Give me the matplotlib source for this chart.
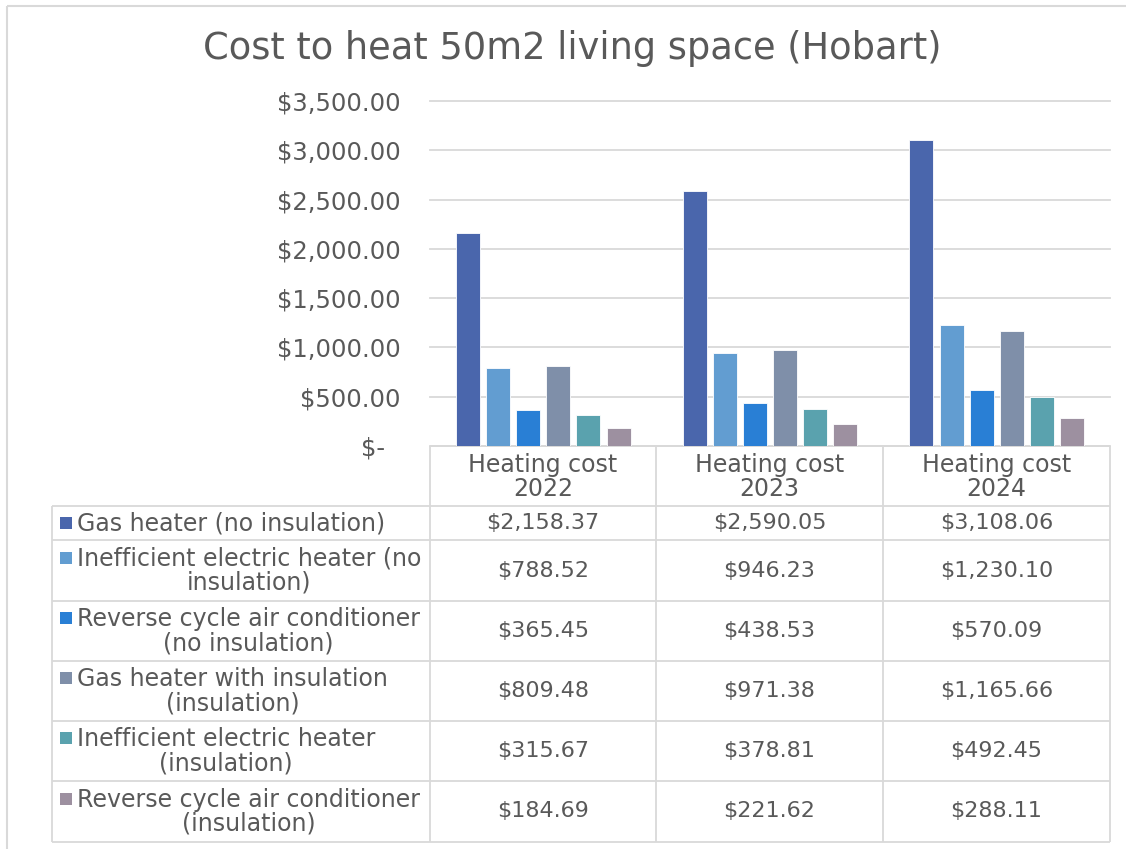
import matplotlib.pyplot as plt
import numpy as np
from matplotlib.patches import Rectangle

plt.rcParams['font.family'] = ['DejaVu Sans']

# Heating cost data per year
years = ["2022", "2023", "2024"]
series_names = [
    "Gas heater (no insulation)",
    "Inefficient electric heater (no\ninsulation)",
    "Reverse cycle air conditioner\n(no insulation)",
    "Gas heater with insulation\n(insulation)",
    "Inefficient electric heater\n(insulation)",
    "Reverse cycle air conditioner\n(insulation)",
]
gas_no_ins = [2158.37, 2590.05, 3108.06]
elec_no_ins = [788.52, 946.23, 1230.10]
rcac_no_ins = [365.45, 438.53, 570.09]
gas_ins = [809.48, 971.38, 1165.66]
elec_ins = [315.67, 378.81, 492.45]
rcac_ins = [184.69, 221.62, 288.11]
series_values = [gas_no_ins, elec_no_ins, rcac_no_ins, gas_ins, elec_ins, rcac_ins]
colors = ["#4A66AC", "#629DD1", "#297FD5", "#7F8FA9", "#5AA2AE", "#9D90A0"]

W, H = 1126, 849
TXT = "#595959"
LINE = "#D9D9D9"

fig = plt.figure(figsize=(W / 100, H / 100), dpi=100)

# pixel-space overlay for frame, title and data table
bg = fig.add_axes([0, 0, 1, 1])
bg.set_xlim(0, W)
bg.set_ylim(H, 0)
bg.axis('off')
bg.add_patch(Rectangle((7, 6), W + 10, H + 10, fill=False, ec=LINE, lw=1.5))
bg.text(572, 48, "Cost to heat 50m2 living space (Hobart)", ha='center', va='center',
        fontsize=26.5, color=TXT)

# bar chart
left, right, top, base = 430, 1110, 101, 446
ax = fig.add_axes([left / W, 1 - base / H, (right - left) / W, (base - top) / H])
ax.patch.set_alpha(0)
x = np.arange(len(years))
bw = 0.106
step = 0.1327
for i, (vals, c) in enumerate(zip(series_values, colors)):
    ax.bar(x + (i - 2.5) * step, vals, width=bw, color=c, edgecolor="white", linewidth=0.6, zorder=3)
ax.set_xlim(-0.5, 2.5)
ax.set_ylim(0, 3500)
ticks = np.arange(0, 3501, 500)
ax.set_yticks(ticks)
ax.set_yticklabels(["$-  "] + [f"${t:,.2f}" for t in ticks[1:]], fontsize=17.5, color=TXT)
ax.tick_params(axis='y', length=0, pad=21)
ax.set_xticks([])
ax.grid(axis='y', color=LINE, lw=1.3, zorder=0)
for gl in ax.get_ygridlines():
    gl.set_clip_on(False)
for s in ax.spines.values():
    s.set_visible(False)

# data table below the chart
col_edges = [430, 656, 883, 1110]
row_edges = [506, 540, 601, 661, 721, 781, 842]

def hline(y, x0, x1):
    bg.plot([x0, x1], [y, y], color=LINE, lw=1.3, solid_capstyle='butt')

def vline(xx, y0, y1):
    bg.plot([xx, xx], [y0, y1], color=LINE, lw=1.3, solid_capstyle='butt')

hline(base, col_edges[0], col_edges[-1])
for y in row_edges:
    hline(y, 52, 1110)
for xx in col_edges:
    vline(xx, base, row_edges[-1])
vline(52, row_edges[0], row_edges[-1])

for j, yr in enumerate(years):
    cx = (col_edges[j] + col_edges[j + 1]) / 2
    bg.text(cx, 477, "Heating cost\n" + yr, ha='center', va='center', fontsize=17,
            color=TXT, linespacing=1.0)

for i, (name, vals, c) in enumerate(zip(series_names, series_values, colors)):
    y0, y1 = row_edges[i], row_edges[i + 1]
    cy = (y0 + y1) / 2
    nlines = name.count("\n") + 1
    bg.text(77, cy, name, ha='left', va='center', multialignment='center', fontsize=17,
            color=TXT, linespacing=1.0)
    my = cy - (nlines - 1) * 13
    bg.add_patch(Rectangle((60, my - 6), 12, 12, color=c, lw=0))
    for j, v in enumerate(vals):
        cx = (col_edges[j] + col_edges[j + 1]) / 2
        bg.text(cx, cy, f"${v:,.2f}", ha='center', va='center', fontsize=16, color=TXT)

fig.savefig("out.png", dpi=100)
